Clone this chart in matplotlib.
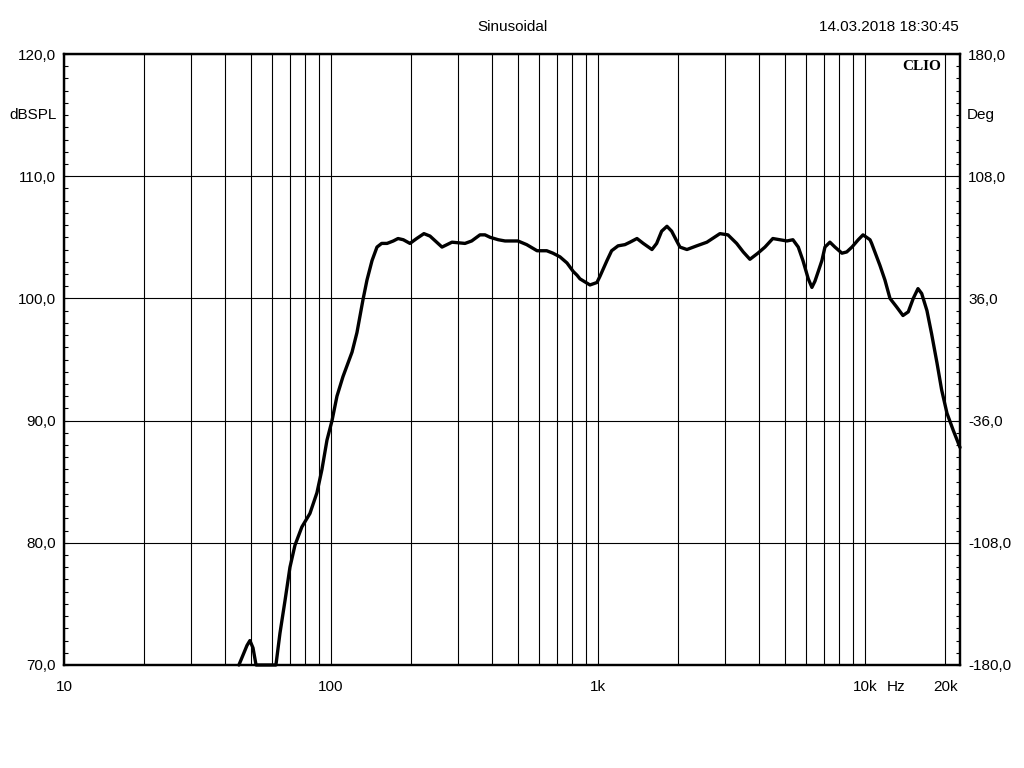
import matplotlib
matplotlib.use("Agg")
import matplotlib.pyplot as plt
import numpy as np
from matplotlib.ticker import FixedLocator, MultipleLocator, NullFormatter

# frequency response (Hz, dBSPL)
freq_hz = [45.2, 48.46, 49.7, 51.04, 52.4, 55.2, 59.0, 62.2, 64.4, 67.3,
           70.2, 73.3, 77.8, 83.4, 88.6, 92.5, 96.6, 100.9, 105.3, 110.9,
           119.9, 125.1, 131.8, 136.4, 142.5, 148.7, 154.8, 162.2, 171.2, 178.3,
           186.6, 197.6, 209.4, 222.9, 234.9, 248.8, 260.5, 283.9, 317.6, 336.5,
           361.5, 377.4, 394.5, 423.3, 448.7, 501.4, 540.8, 591.4, 642.7, 678.2,
           720.6, 765.6, 808.2, 834.6, 856.2, 933.3, 991, 1017, 1081, 1125,
           1189, 1262, 1318, 1400, 1478, 1593, 1659, 1732, 1813, 1888,
           1972, 2028, 2154, 2343, 2559, 2863, 3068, 3307, 3501, 3708,
           3972, 4222, 4518, 5102, 5373, 5627, 5858, 6134, 6329, 6495,
           6684, 6899, 7083, 7392, 7720, 8199, 8543, 8940, 9439, 9835,
           10447, 10595, 11380, 11882, 12410, 13143, 13880, 14530, 15170, 15800,
           16310, 17070, 17770, 18620, 19380, 20290, 21420, 22700]
spl_db = [70.0, 71.6, 72.0, 71.4, 70.0, 67.0, 67.0, 70.0, 72.6, 75.3,
          78.0, 79.8, 81.3, 82.4, 84.1, 86.0, 88.4, 90.0, 92.0, 93.6,
          95.6, 97.2, 99.9, 101.5, 103.1, 104.2, 104.5, 104.5, 104.7, 104.9,
          104.8, 104.5, 104.9, 105.3, 105.1, 104.6, 104.2, 104.6, 104.5, 104.7,
          105.2, 105.2, 105.0, 104.8, 104.7, 104.7, 104.4, 103.9, 103.9, 103.7,
          103.4, 102.9, 102.2, 101.9, 101.6, 101.1, 101.3, 101.8, 103.1, 103.9,
          104.3, 104.4, 104.6, 104.9, 104.5, 104.0, 104.5, 105.5, 105.9, 105.5,
          104.7, 104.2, 104.0, 104.3, 104.6, 105.3, 105.2, 104.5, 103.8, 103.2,
          103.7, 104.2, 104.9, 104.7, 104.8, 104.2, 103.1, 101.6, 100.9, 101.4,
          102.2, 103.1, 104.2, 104.6, 104.2, 103.7, 103.8, 104.2, 104.8, 105.2,
          104.8, 104.5, 102.7, 101.5, 100.0, 99.3, 98.6, 98.9, 100.0, 100.8,
          100.4, 99.0, 97.1, 94.7, 92.5, 90.6, 89.2, 87.8]

x_major = [10, 100, 1000, 10000, 20000]
x_major_labels = ["10", "100", "1k", "10k", "20k"]
x_minor = [m * d for d in (10, 100, 1000) for m in range(2, 10)]
db_ticks = [70, 80, 90, 100, 110, 120]
deg_ticks = [-180, -108, -36, 36, 108, 180]

plt.rcParams["font.family"] = ["Liberation Sans", "DejaVu Sans"]
plt.rcParams["font.size"] = 11

fig = plt.figure(figsize=(10.24, 7.68), dpi=100)
ax = fig.add_axes([64 / 1024, 1 - 665 / 768, 896 / 1024, 611 / 768])

# values below 70 dB sit on the bottom edge, as in the CLIO screen
ax.plot(freq_hz, np.maximum(spl_db, 70), color="black", lw=2.4,
        solid_joinstyle="round", solid_capstyle="round", clip_on=False, zorder=5)

ax.set_xscale("log")
ax.set_xlim(10, 22700)
ax.set_ylim(70, 120)

ax.xaxis.set_major_locator(FixedLocator(x_major))
ax.xaxis.set_minor_locator(FixedLocator(x_minor))
ax.xaxis.set_minor_formatter(NullFormatter())
ax.set_xticklabels(x_major_labels)
ax.tick_params(axis="x", which="both", length=0, pad=11)

ax.set_yticks(db_ticks)
ax.set_yticklabels([f"{v:.1f}".replace(".", ",") for v in db_ticks])
ax.yaxis.set_minor_locator(MultipleLocator(1))
ax.tick_params(axis="y", which="both", direction="in", length=3, width=0.8, pad=6)

ax.grid(True, which="both", axis="x", color="black", lw=0.8)
ax.grid(True, which="major", axis="y", color="black", lw=0.8)

for s in ax.spines.values():
    s.set_linewidth(1.6)

ax2 = ax.twinx()
ax2.set_ylim(-180, 180)
ax2.set_yticks(deg_ticks)
ax2.set_yticklabels([f"{v:.1f}".replace(".", ",") for v in deg_ticks])
ax2.yaxis.set_minor_locator(MultipleLocator(7.2))
ax2.tick_params(axis="y", which="both", direction="in", length=3, width=0.8, pad=6)
for s in ax2.spines.values():
    s.set_linewidth(1.6)

fig.text(896 / 1024, 1 - 687 / 768, "Hz", ha="center", va="center")
fig.text(512 / 1024, 1 - 27 / 768, "Sinusoidal", ha="center", va="center")
fig.text(959 / 1024, 1 - 27 / 768, "14.03.2018 18:30:45", ha="right", va="center")
fig.text(33 / 1024, 1 - 115 / 768, "dBSPL", ha="center", va="center")
fig.text(981 / 1024, 1 - 115 / 768, "Deg", ha="center", va="center")
fig.text(941 / 1024, 1 - 66 / 768, "CLIO", ha="right", va="center",
         family="Liberation Serif", weight="bold", fontsize=11)

fig.savefig("out.png", dpi=100)
